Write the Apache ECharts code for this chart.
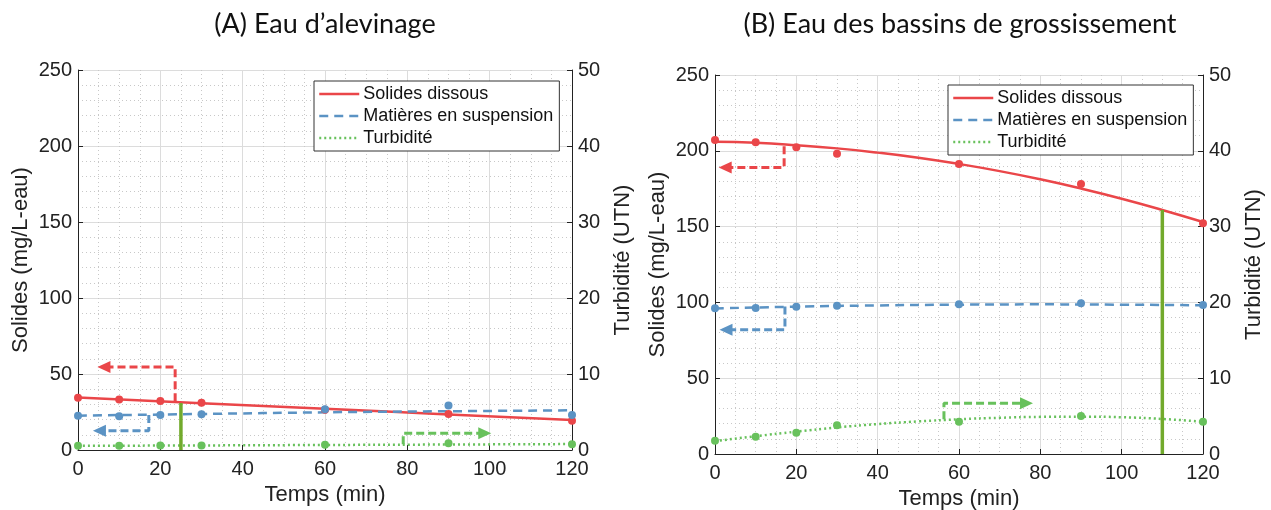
<!DOCTYPE html>
<html>
<head>
<meta charset="utf-8">
<script src="https://cdn.jsdelivr.net/npm/echarts@6/dist/echarts.min.js"></script>
<style>
  html, body { margin: 0; padding: 0; background: #fff; }
  #chart { width: 1271px; height: 510px; }
</style>
</head>
<body>
<div id="chart"></div>
<script>
// Sampling times (min)
const timeMin = [0, 10, 20, 30, 60, 90, 120];

// (A) Eau d'alevinage — measured values
const aDissous = [34.4, 33.3, 32.2, 31.1, 26.5, 23.7, 19.3];      // mg/L
const aSuspension = [22.6, 22.2, 23.0, 23.5, 26.8, 29.2, 23.0];   // mg/L
const aTurbidite = [0.55, 0.55, 0.6, 0.6, 0.7, 0.88, 0.75];       // UTN

// (A) trend curves [t, value]
const aDissousFit = [[0, 34.5], [30, 30.8], [60, 27.1], [90, 23.4], [120, 19.7]];
const aSuspensionFit = [[0, 22.6], [30, 23.7], [60, 24.8], [90, 25.5], [120, 26.1]];
const aTurbiditeFit = [[0, 0.55], [30, 0.6], [60, 0.66], [90, 0.72], [120, 0.78]];

// (B) Eau des bassins de grossissement — measured values
const bDissous = [207.1, 205.6, 202.3, 198.1, 191.3, 178.1, 152.2];
const bSuspension = [96.1, 96.3, 97.2, 97.8, 98.7, 99.4, 98.3];
const bTurbidite = [1.75, 2.28, 2.81, 3.78, 4.26, 5.0, 4.26];

// (B) trend curves [t, value]
const bDissousFit = [[0, 206.0], [10, 205.3], [20, 203.7], [30, 201.6], [40, 198.8], [50, 195.4], [60, 191.3],
  [70, 186.6], [80, 181.2], [90, 175.1], [100, 168.4], [110, 161.0], [120, 153.0]];
const bSuspensionFit = [[0, 96.0], [20, 97.2], [40, 98.0], [60, 98.5], [80, 98.7], [100, 98.5], [120, 98.1]];
const bTurbiditeFit = [[0, 1.7], [10, 2.35], [20, 2.95], [30, 3.5], [40, 3.95], [50, 4.3], [60, 4.58],
  [70, 4.78], [80, 4.9], [90, 4.93], [100, 4.85], [110, 4.62], [120, 4.26]];

// Vertical markers [t, from, to] on the solids scale
const aMarker = [25, 0, 31];
const bMarker = [110, 0, 161];

// Axis-pointer arrows: polyline vertices, last one carries the head
const aArrowDissous = [[23.6, 32], [23.6, 54.6], [6.3, 54.6]];
const aArrowSuspension = [[17.2, 23], [17.2, 12.7], [5.2, 12.7]];
const aArrowTurbidite = [[79, 0.75], [79, 2.2], [98.8, 2.2]];
const bArrowDissous = [[17, 203], [17, 189], [2.5, 189]];
const bArrowSuspension = [[17.2, 97.3], [17.2, 82], [2.7, 82]];
const bArrowTurbidite = [[56.3, 4.6], [56.3, 6.7], [76.6, 6.7]];

const panelTitles = ['(A) Eau d\u2019alevinage', '(B) Eau des bassins de grossissement'];
const seriesNames = ['Solides dissous', 'Mati\u00e8res en suspension', 'Turbidit\u00e9'];
const xName = 'Temps (min)';
const yLeftName = 'Solides (mg/L-eau)';
const yRightName = 'Turbidit\u00e9 (UTN)';

const RED = '#ea4649';
const BLUE = '#5b93c4';
const GREEN = '#68c15c';
const MARK = '#72aa2c';
const INK = '#222';
const FONT = '"Liberation Sans", Arial, sans-serif';
const TITLE_FONT = 'Lato, "Open Sans", sans-serif';

const pair = (xs, ys) => xs.map((x, i) => [x, ys[i]]);

function xAxis(gridIndex, nameGap) {
  return {
    type: 'value', gridIndex, min: 0, max: 120, interval: 20,
    name: xName, nameLocation: 'middle', nameGap,
    nameTextStyle: { fontSize: 22, color: INK, fontFamily: FONT },
    axisLine: { show: true, onZero: false, lineStyle: { color: INK, width: 1 } },
    axisTick: { show: true, inside: true, length: 5, lineStyle: { color: INK } },
    axisLabel: { fontSize: 20, color: INK, fontFamily: FONT, margin: 9 },
    splitLine: { show: true, lineStyle: { color: '#dcdcdc', width: 1 } },
    minorTick: { show: false, splitNumber: 4 },
    minorSplitLine: { show: true, lineStyle: { color: '#c8c8c8', width: 1, type: [1, 3] } }
  };
}

function yLeft(gridIndex, nameGap) {
  return {
    type: 'value', gridIndex, min: 0, max: 250, interval: 50, position: 'left',
    name: yLeftName, nameLocation: 'middle', nameGap,
    nameTextStyle: { fontSize: 22, color: INK, fontFamily: FONT },
    axisLine: { show: true, onZero: false, lineStyle: { color: INK, width: 1 } },
    axisTick: { show: true, inside: true, length: 5, lineStyle: { color: INK } },
    axisLabel: { fontSize: 20, color: INK, fontFamily: FONT, margin: 6 },
    splitLine: { show: true, lineStyle: { color: '#dcdcdc', width: 1 } },
    minorTick: { show: false, splitNumber: 5 },
    minorSplitLine: { show: true, lineStyle: { color: '#c8c8c8', width: 1, type: [1, 3] } }
  };
}

function yRight(gridIndex, nameGap) {
  return {
    type: 'value', gridIndex, min: 0, max: 50, interval: 10, position: 'right',
    name: yRightName, nameLocation: 'middle', nameGap,
    nameTextStyle: { fontSize: 22, color: INK, fontFamily: FONT },
    axisLine: { show: true, onZero: false, lineStyle: { color: INK, width: 1 } },
    axisTick: { show: true, inside: true, length: 5, lineStyle: { color: INK } },
    axisLabel: { fontSize: 20, color: INK, fontFamily: FONT, margin: 6 },
    splitLine: { show: false }
  };
}

function fitLine(name, data, color, type, xi, yi) {
  return {
    name, type: 'line', xAxisIndex: xi, yAxisIndex: yi, data, smooth: true,
    symbol: 'none', lineStyle: { color, width: 2.5, type }, itemStyle: { color }, z: 3, silent: true
  };
}

function points(name, data, color, xi, yi) {
  return {
    name, type: 'scatter', xAxisIndex: xi, yAxisIndex: yi, data,
    symbol: 'circle', symbolSize: 8, itemStyle: { color, opacity: 1 }, z: 4, silent: true
  };
}

function marker(m, xi, yi) {
  return {
    name: 'marker', type: 'line', xAxisIndex: xi, yAxisIndex: yi,
    data: [[m[0], m[1]], [m[0], m[2]]], symbol: 'none',
    lineStyle: { color: MARK, width: 3.5 }, z: 5, silent: true
  };
}

function arrow(pts, color, rot, xi, yi) {
  const data = pts.map((p, i) => i === pts.length - 1
    ? { value: p, symbol: 'triangle', symbolSize: [12, 13], symbolRotate: rot }
    : { value: p, symbol: 'none' });
  return {
    name: 'arrow', type: 'line', xAxisIndex: xi, yAxisIndex: yi, data,
    showSymbol: true, showAllSymbol: true,
    lineStyle: { color, width: 3, type: [8, 4] }, itemStyle: { color }, z: 6, silent: true
  };
}

function legend(left, top) {
  return {
    data: seriesNames, orient: 'vertical', left, top,
    backgroundColor: '#fff', borderColor: '#333', borderWidth: 1,
    padding: [3, 6, 3, 4], itemGap: 2, itemWidth: 40, itemHeight: 14,
    selectedMode: false,
    // line sample only, no point symbol
    itemStyle: { opacity: 0 },
    lineStyle: { width: 2.5 },
    textStyle: { fontSize: 18, color: '#111', fontFamily: FONT, lineHeight: 20, padding: [0, 0, 0, -1] }
  };
}

const chart = echarts.init(document.getElementById('chart'), null, { renderer: 'canvas' });

chart.setOption({
  animation: false,
  backgroundColor: '#fff',
  title: [
    { text: panelTitles[0], left: 320, top: 6, textAlign: 'center',
      textStyle: { fontSize: 27, fontWeight: 'normal', color: '#111', fontFamily: TITLE_FONT } },
    { text: panelTitles[1], left: 955, top: 6, textAlign: 'center',
      textStyle: { fontSize: 27, fontWeight: 'normal', color: '#111', fontFamily: TITLE_FONT } }
  ],
  legend: [legend(314, 81), legend(948, 85)],
  grid: [
    { left: 78, top: 70, width: 494, height: 380, containLabel: false, outerBoundsMode: 'none' },
    { left: 715, top: 75, width: 488, height: 379, containLabel: false, outerBoundsMode: 'none' }
  ],
  xAxis: [xAxis(0, 32), xAxis(1, 33)],
  yAxis: [yLeft(0, 46), yRight(0, 40), yLeft(1, 46), yRight(1, 40)],
  series: [
    // trend curves first so the legend takes their styles
    fitLine(seriesNames[0], aDissousFit, RED, 'solid', 0, 0),
    fitLine(seriesNames[1], aSuspensionFit, BLUE, [9, 6], 0, 0),
    fitLine(seriesNames[2], aTurbiditeFit, GREEN, [2, 3], 0, 1),
    fitLine(seriesNames[0], bDissousFit, RED, 'solid', 1, 2),
    fitLine(seriesNames[1], bSuspensionFit, BLUE, [9, 6], 1, 2),
    fitLine(seriesNames[2], bTurbiditeFit, GREEN, [2, 3], 1, 3),

    points('mesures dissous A', pair(timeMin, aDissous), RED, 0, 0),
    points('mesures suspension A', pair(timeMin, aSuspension), BLUE, 0, 0),
    points('mesures turbidite A', pair(timeMin, aTurbidite), GREEN, 0, 1),
    points('mesures dissous B', pair(timeMin, bDissous), RED, 1, 2),
    points('mesures suspension B', pair(timeMin, bSuspension), BLUE, 1, 2),
    points('mesures turbidite B', pair(timeMin, bTurbidite), GREEN, 1, 3),

    marker(aMarker, 0, 0),
    marker(bMarker, 1, 2),

    arrow(aArrowDissous, RED, 90, 0, 0),
    arrow(aArrowSuspension, BLUE, 90, 0, 0),
    arrow(aArrowTurbidite, GREEN, -90, 0, 1),
    arrow(bArrowDissous, RED, 90, 1, 2),
    arrow(bArrowSuspension, BLUE, 90, 1, 2),
    arrow(bArrowTurbidite, GREEN, -90, 1, 3)
  ]
});
</script>
</body>
</html>
